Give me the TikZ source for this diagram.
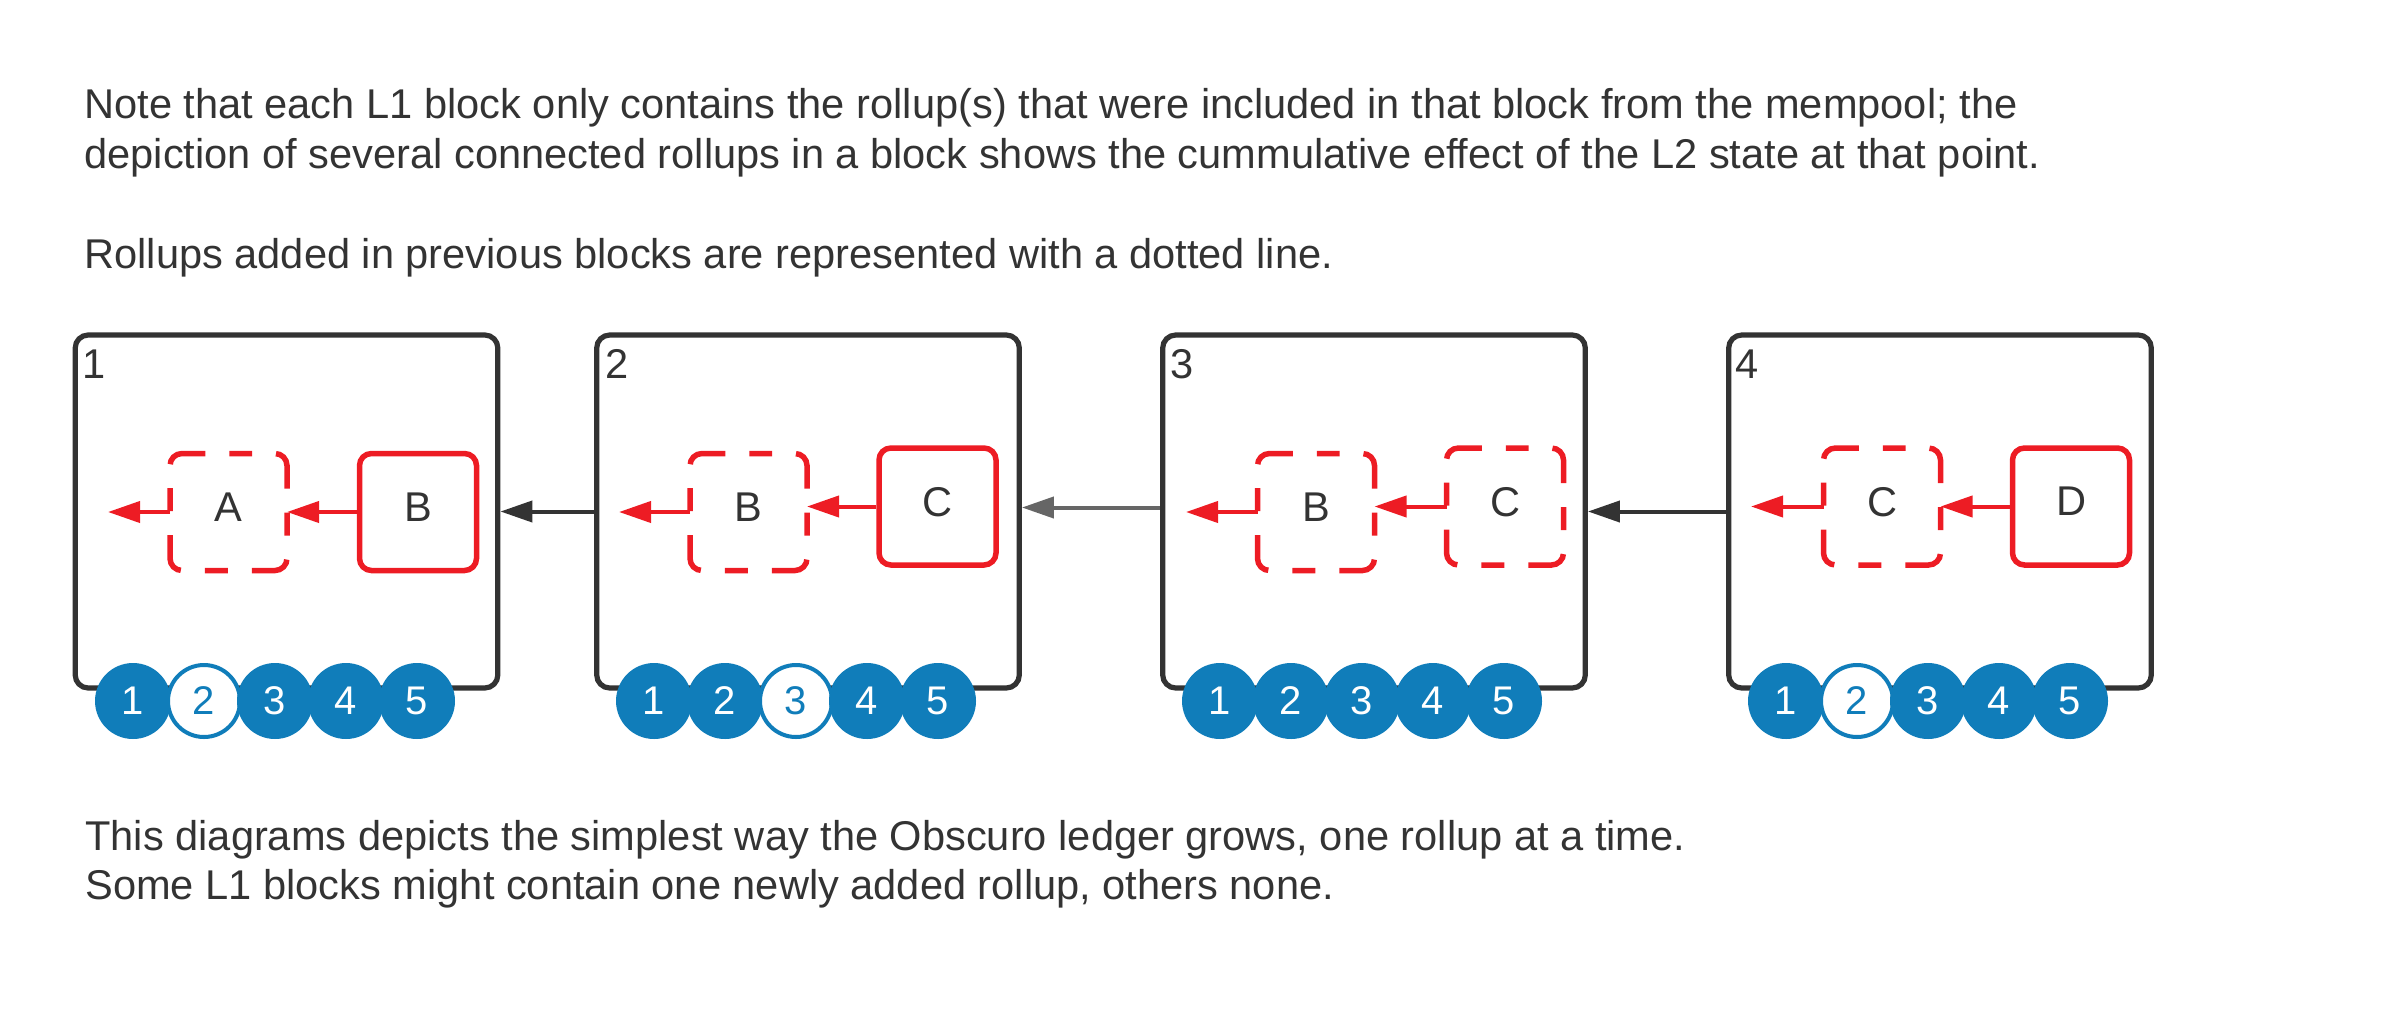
\documentclass[tikz,border=0pt]{standalone}
\usepackage{fontspec}
\setmainfont{Liberation Sans}
\usetikzlibrary{arrows.meta,calc}
\definecolor{ink}{HTML}{333333}
\definecolor{ink2}{HTML}{666666}
\definecolor{rred}{RGB}{237,28,36}
\definecolor{cblue}{RGB}{16,125,186}
\begin{document}
\begin{tikzpicture}[x=0.5pt,y=-0.5pt,
  txt/.style={anchor=base west, inner sep=0pt, text=ink, font=\fontsize{20.8}{25}\selectfont},
  blockbox/.style={draw=ink, line width=2.6pt, rounded corners=6.5pt, minimum width=211.3pt, minimum height=176.5pt, inner sep=0pt},
  blocknum/.style={anchor=base west, inner sep=0pt, text=ink, font=\fontsize{20.8}{25}\selectfont},
  solidbox/.style={draw=rred, line width=2.75pt, rounded corners=6pt, minimum size=58.5pt, inner sep=0pt, text depth=5pt, text=ink, font=\fontsize{20.8}{25}\selectfont},
  dashbox/.style={minimum size=58.5pt, inner sep=0pt, outer sep=0pt, text depth=5pt, text=ink, font=\fontsize{20.8}{25}\selectfont},
  dashframe/.style={draw=rred, line width=2.75pt, rounded corners=6pt, dash pattern=on 11.5pt off 12pt on 20.42pt off 12pt, dash phase=5.75pt},
  redarrow/.style={draw=rred, line width=2pt, -{Triangle[length=16pt,width=10.5pt]}},
  chainarrow/.style={draw=ink, line width=2pt, -{Triangle[length=16pt,width=10.5pt]}},
  chainarrowlight/.style={draw=ink2, line width=2pt, -{Triangle[length=16pt,width=10.5pt]}},
  dot/.style={circle, fill=cblue, minimum size=38pt, inner sep=0pt, text=white, font=\fontsize{20}{24}\selectfont},
  hollowdot/.style={circle, fill=white, draw=cblue, line width=2pt, minimum size=36pt, inner sep=0pt, text=cblue, font=\fontsize{20}{24}\selectfont}
]
\useasboundingbox (0,0) rectangle (2396,1028);

% texts
\node[txt] (t1) at (84,118) {Note that each L1 block only contains the rollup(s) that were included in that block from the mempool; the};
\node[txt] (t2) at (84,168) {depiction of several connected rollups in a block shows the cummulative effect of the L2 state at that point.};
\node[txt] (t3) at (84,268) {Rollups added in previous blocks are represented with a dotted line.};
\node[txt] (t4) at (85,850) {This diagrams depicts the simplest way the Obscuro ledger grows, one rollup at a time.};
\node[txt] (t5) at (85,899) {Some L1 blocks might contain one newly added rollup, others none.};

\newcommand{\dashedframe}[1]{\draw[dashframe] (#1.north) -- (#1.north east) -- (#1.south east) -- (#1.south west) -- (#1.north west) -- cycle;}

% blocks
\node[blockbox] (b1) at (286.5,511.5) {};
\node[blockbox] (b2) at (808,511.5) {};
\node[blockbox] (b3) at (1374,511.5) {};
\node[blockbox] (b4) at (1940,511.5) {};
\node[blocknum] (n1) at (82,378) {1};
\node[blocknum] (n2) at (605,378) {2};
\node[blocknum] (n3) at (1170,378) {3};
\node[blocknum] (n4) at (1735,378) {4};

% block 1
\node[dashbox] (b1a) at (228.5,512) {A}; \dashedframe{b1a}
\node[solidbox] (b1b) at (418,512) {B};
\coordinate (o1) at (108,512);
\draw[redarrow] (b1b.west) -- (b1a.east);
\draw[redarrow] (b1a.west) -- (o1);

% block 2
\node[dashbox] (b2b) at (748.5,512) {B}; \dashedframe{b2b}
\node[solidbox] (b2c) at (937.5,506.5) {C};
\coordinate (o2) at (619,512);
\draw[redarrow] (b2c.west) -- (b2c.west -| b2b.east);
\draw[redarrow] (b2b.west) -- (o2);

% block 3
\node[dashbox] (b3b) at (1316,512) {B}; \dashedframe{b3b}
\node[dashbox] (b3c) at (1505,506.5) {C}; \dashedframe{b3c}
\coordinate (o3) at (1186,512);
\draw[redarrow] (b3c.west) -- (b3c.west -| b3b.east);
\draw[redarrow] (b3b.west) -- (o3);

% block 4
\node[dashbox] (b4c) at (1882,506.5) {C}; \dashedframe{b4c}
\node[solidbox] (b4d) at (2071,506.5) {D};
\coordinate (o4) at (1751,506.5);
\draw[redarrow] (b4d.west) -- (b4c.east);
\draw[redarrow] (b4c.west) -- (o4);

% chain arrows
\draw[chainarrow] (b2.west) -- (b1.east);
\coordinate (j32) at ($(b3.west)+(0,-4)$);
\draw[chainarrowlight] (j32) -- (j32 -| b2.east);
\draw[chainarrow] (b4.west) -- (b3.east);

% rollup dots
\foreach \L/\h [count=\bi] in {74/2,595/3,1161/0,1727/2}{
  \foreach \k in {1,...,5}{
    \pgfmathsetmacro{\cx}{\L+59+71*(\k-1)}
    \ifnum\k=\h
      \node[hollowdot] (c\bi-\k) at (\cx,701) {\k};
    \else
      \node[dot] (c\bi-\k) at (\cx,701) {\k};
    \fi
  }
}
\end{tikzpicture}
\end{document}
